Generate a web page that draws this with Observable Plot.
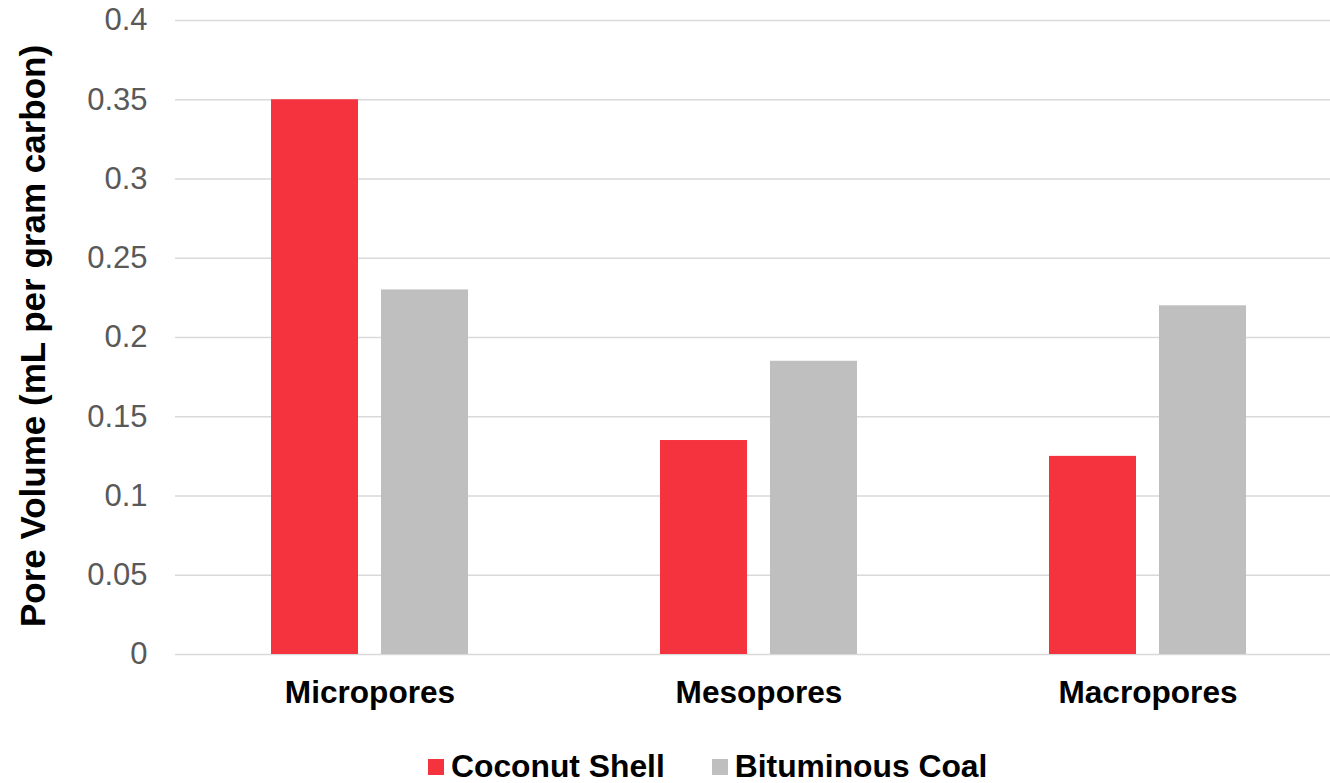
<!DOCTYPE html>
<html>
<head>
<meta charset="utf-8">
<script src="https://cdn.jsdelivr.net/npm/d3@7"></script>
<script src="https://cdn.jsdelivr.net/npm/@observablehq/plot@0.6"></script>
<style>
  html, body { margin: 0; padding: 0; background: #fff; }
  body { width: 1330px; height: 783px; overflow: hidden; font-family: "Liberation Sans", Arial, sans-serif; }
  #chart svg { display: block; }
  .legend { display: flex; align-items: center; height: 33px; padding-top: 10px; padding-left: 428px;
            font: bold 31.8px "Liberation Sans", Arial, sans-serif; color: #000; }
  .legend .item { display: flex; align-items: center; }
  .legend .item + .item { margin-left: 47px; }
  .legend .swatch { width: 16px; height: 16px; margin-right: 7px; }
</style>
</head>
<body>
<div id="chart"></div>
<script>
// Pore volume by pore size class, for two activated-carbon sources
const categories = ["Micropores", "Mesopores", "Macropores"];
const series = ["Coconut Shell", "Bituminous Coal"];
const coconutShell = [0.35, 0.135, 0.125];
const bituminousCoal = [0.23, 0.185, 0.22];
const seriesColors = ["#F5333F", "#BFBFBF"];
const yTicks = [0, 0.05, 0.1, 0.15, 0.2, 0.25, 0.3, 0.35, 0.4];
const yTickLabels = ["0", "0.05", "0.1", "0.15", "0.2", "0.25", "0.3", "0.35", "0.4"];
const yTitle = "Pore Volume (mL per gram carbon)";

const values = [coconutShell, bituminousCoal];
const data = categories.flatMap((category, i) =>
  series.map((s, j) => ({category, series: s, value: values[j][i]}))
);

const chart = Plot.plot({
  width: 1330,
  height: 740,
  marginLeft: 174,
  marginRight: 0,
  marginTop: 20,
  marginBottom: 86,
  style: {fontFamily: '"Liberation Sans", Arial, sans-serif', background: "#fff"},
  fx: {domain: categories, range: [174, 1343.25], padding: 0, label: null},
  x: {domain: series, paddingInner: 0.2135, paddingOuter: 0.862, axis: null},
  y: {domain: [0, 0.4], label: null},
  color: {domain: series, range: seriesColors},
  marks: [
    Plot.gridY(yTicks, {stroke: "#d9d9d9", strokeOpacity: 1, strokeWidth: 1.5}),
    Plot.barY(data, {fx: "category", x: "series", y: "value", fill: "series"}),
    Plot.axisY({
      ticks: yTicks,
      tickSize: 0,
      tickPadding: 28,
      tickFormat: d => yTickLabels[yTicks.indexOf(d)],
      fontSize: 31,
      color: "#595959",
      label: null
    }),
    Plot.axisFx({
      anchor: "bottom",
      tickSize: 0,
      tickPadding: 26,
      fontSize: 31.6,
      fontWeight: "bold",
      color: "#000",
      label: null
    }),
    Plot.text([yTitle], {
      facet: "super",
      frameAnchor: "left",
      textAnchor: "middle",
      rotate: -90,
      dx: -142,
      dy: -1.5,
      fontSize: 35,
      fontWeight: "bold",
      fill: "#000"
    })
  ]
});
document.getElementById("chart").append(chart);

// Legend below the plot
const legend = document.createElement("div");
legend.className = "legend";
series.forEach((s, i) => {
  const item = document.createElement("div");
  item.className = "item";
  const sw = document.createElement("span");
  sw.className = "swatch";
  sw.style.background = seriesColors[i];
  const label = document.createElement("span");
  label.textContent = s;
  item.append(sw, label);
  legend.append(item);
});
document.body.append(legend);
</script>
</body>
</html>
